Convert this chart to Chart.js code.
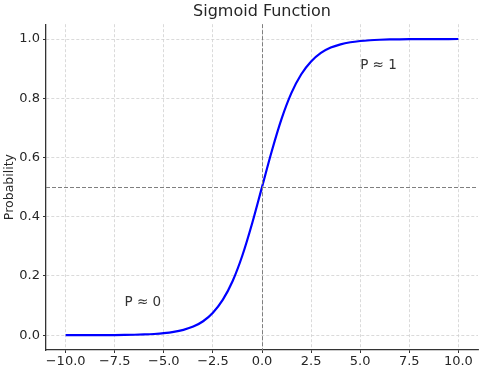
<!DOCTYPE html>
<html>
<head>
<meta charset="utf-8">
<script src="https://cdn.jsdelivr.net/npm/chart.js@4/dist/chart.umd.min.js"></script>
<style>
  html, body { margin: 0; padding: 0; background: #fff; }
  #wrap { width: 484px; height: 372px; }
</style>
</head>
<body>
<div id="wrap"><canvas id="myChart" width="484" height="372"></canvas></div>
<script>
// valores
var xs = [-10, -9.5, -9, -8.5, -8, -7.5, -7, -6.5, -6, -5.5, -5, -4.5, -4, -3.5, -3, -2.5, -2, -1.5, -1, -0.5,
    0, 0.5, 1, 1.5, 2, 2.5, 3, 3.5, 4, 4.5, 5, 5.5, 6, 6.5, 7, 7.5, 8, 8.5, 9, 9.5, 10];
var probabilidad = [0.00005, 0.00007, 0.00012, 0.0002, 0.00034, 0.00055, 0.00091, 0.0015, 0.0025, 0.0041,
    0.0067, 0.011, 0.018, 0.029, 0.047, 0.076, 0.119, 0.182, 0.269, 0.378,
    0.5, 0.622, 0.731, 0.818, 0.881, 0.924, 0.953, 0.971, 0.982, 0.989,
    0.9933, 0.9959, 0.9975, 0.9985, 0.99909, 0.99945, 0.99966, 0.9998, 0.99988, 0.99993, 0.99995];
var x_ticks = [-10, -7.5, -5, -2.5, 0, 2.5, 5, 7.5, 10];
var y_ticks = [0, 0.2, 0.4, 0.6, 0.8, 1.0];
var ref_x = [0];
var ref_y = [0.5];
var notas = [
    { x: -7, y: 0.1, texto: 'P \u2248 0' },
    { x: 5, y: 0.9, texto: 'P \u2248 1' }
];

var fuente = "'DejaVu Sans', sans-serif";
var fmt = function (v) {
    return Number(v).toFixed(1).replace('-', '\u2212');
};

var puntos = [];
xs.forEach(function (x, i) {
    puntos.push({ x: x, y: probabilidad[i] });
});

// lineas punteadas y textos
var extras = {
    id: 'extras',
    afterDatasetsDraw: function (chart) {
        var ctx = chart.ctx;
        var area = chart.chartArea;
        var sx = chart.scales.x;
        var sy = chart.scales.y;
        ctx.save();
        ctx.strokeStyle = '#7f7f7f';
        ctx.lineWidth = 1;
        ctx.setLineDash([4, 2]);
        ref_x.forEach(function (v) {
            var px = Math.round(sx.getPixelForValue(v)) + 0.5;
            ctx.beginPath();
            ctx.moveTo(px, area.top);
            ctx.lineTo(px, area.bottom);
            ctx.stroke();
        });
        ref_y.forEach(function (v) {
            var py = Math.round(sy.getPixelForValue(v)) + 0.5;
            ctx.beginPath();
            ctx.moveTo(area.left, py);
            ctx.lineTo(area.right, py);
            ctx.stroke();
        });
        ctx.setLineDash([]);
        ctx.fillStyle = '#333333';
        ctx.font = '13.5px ' + fuente;
        ctx.textAlign = 'left';
        ctx.textBaseline = 'alphabetic';
        notas.forEach(function (n) {
            ctx.fillText(n.texto, sx.getPixelForValue(n.x), sy.getPixelForValue(n.y));
        });
        ctx.restore();
    }
};

var myChart = new Chart(document.getElementById('myChart'), {
    type: 'line',
    data: {
        datasets: [{
            data: puntos,
            borderColor: '#0000ff',
            borderWidth: 2.2,
            pointRadius: 0,
            fill: false,
            cubicInterpolationMode: 'monotone'
        }]
    },
    plugins: [extras],
    options: {
        responsive: false,
        animation: false,
        layout: { padding: { left: 0, right: 6, top: 0, bottom: 0 } },
        plugins: {
            legend: { display: false },
            tooltip: { enabled: false },
            title: {
                display: true,
                fullSize: false,
                text: 'Sigmoid Function',
                color: '#262626',
                font: { family: fuente, size: 16, weight: 'normal' },
                padding: { top: 2, bottom: 3 }
            }
        },
        scales: {
            x: {
                type: 'linear',
                min: -11,
                max: 11,
                afterBuildTicks: function (s) {
                    s.ticks = x_ticks.map(function (v) { return { value: v }; });
                },
                afterFit: function (s) { s.height = 22; },
                ticks: {
                    callback: fmt,
                    color: '#262626',
                    font: { family: fuente, size: 13 },
                    padding: 1,
                    maxRotation: 0,
                    autoSkip: false
                },
                grid: { color: '#d0d0d0', lineWidth: 0.8, tickLength: 3, tickColor: '#333333', tickWidth: 1 },
                border: { color: '#333333', width: 1.3, dash: [3, 2] }
            },
            y: {
                type: 'linear',
                min: -0.05,
                max: 1.05,
                afterBuildTicks: function (s) {
                    s.ticks = y_ticks.map(function (v) { return { value: v }; });
                },
                afterFit: function (s) { s.width = 46; },
                title: {
                    display: true,
                    text: 'Probability',
                    color: '#262626',
                    font: { family: fuente, size: 12.5 },
                    padding: { top: 2, bottom: 0 }
                },
                ticks: {
                    callback: fmt,
                    color: '#262626',
                    font: { family: fuente, size: 13 },
                    padding: 3,
                    autoSkip: false
                },
                grid: { color: '#d0d0d0', lineWidth: 0.8, tickLength: 3, tickColor: '#333333', tickWidth: 1 },
                border: { color: '#333333', width: 1.3, dash: [3, 2] }
            }
        }
    }
});
</script>
</body>
</html>
